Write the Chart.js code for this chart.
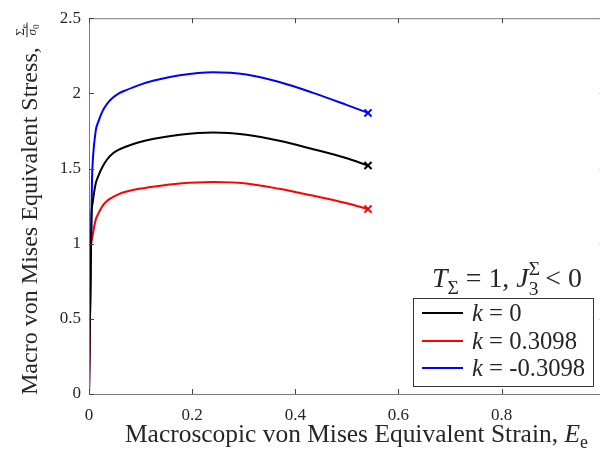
<!DOCTYPE html>
<html>
<head>
<meta charset="utf-8">
<script src="https://cdn.jsdelivr.net/npm/chart.js@4/dist/chart.umd.min.js"></script>
<style>
  html, body { margin: 0; padding: 0; background: #fff; overflow: hidden; }
  #wrap { width: 620px; height: 451px; }
</style>
</head>
<body>
<div id="wrap"><canvas id="c" width="620" height="451"></canvas></div>
<script>
// values
const strainK0 = [0, 0.0048, 0.007, 0.013, 0.018, 0.026, 0.035, 0.046, 0.058, 0.071, 0.097, 0.126, 0.176, 0.24, 0.305, 0.369, 0.433, 0.498, 0.541];
const stressK0 = [0, 1.18, 1.27, 1.40, 1.45, 1.51, 1.56, 1.60, 1.625, 1.645, 1.675, 1.698, 1.725, 1.74, 1.725, 1.685, 1.63, 1.57, 1.52];

const strainKpos = [0, 0.004, 0.0056, 0.013, 0.018, 0.026, 0.035, 0.046, 0.058, 0.071, 0.097, 0.126, 0.176, 0.24, 0.305, 0.369, 0.433, 0.498, 0.541];
const stressKpos = [0, 0.98, 1.03, 1.16, 1.20, 1.25, 1.285, 1.31, 1.33, 1.345, 1.365, 1.38, 1.40, 1.41, 1.40, 1.365, 1.32, 1.27, 1.23];

const strainKneg = [0, 0.0058, 0.007, 0.013, 0.018, 0.026, 0.035, 0.046, 0.058, 0.071, 0.097, 0.126, 0.176, 0.24, 0.305, 0.369, 0.433, 0.498, 0.541];
const stressKneg = [0, 1.42, 1.53, 1.75, 1.81, 1.88, 1.93, 1.97, 2.00, 2.02, 2.055, 2.085, 2.12, 2.14, 2.125, 2.075, 2.005, 1.925, 1.87];

const kLabels = ['0', '0.3098', '-0.3098'];
const xTicks = [0, 0.2, 0.4, 0.6, 0.8, 1];
const yTicks = [0, 0.5, 1, 1.5, 2, 2.5];

const SERIF = '"Liberation Serif", "DejaVu Serif", serif';
const AXIS_GREY = '#7a7a7a';
const TEXT = '#262626';

function toPoints(xs, ys) {
    return xs.map((x, i) => ({x: x, y: ys[i]}));
}

function makeSet(label, xs, ys, color) {
    const last = xs.length - 1;
    return {
        label: label,
        data: toPoints(xs, ys),
        showLine: true,
        borderColor: color,
        backgroundColor: color,
        borderWidth: 2,
        cubicInterpolationMode: 'monotone',
        pointStyle: 'crossRot',
        pointRadius: ctx => ctx.dataIndex === last ? 5 : 0,
        pointHoverRadius: 0,
        pointBorderWidth: 2,
        pointBorderColor: color
    };
}

// draws a list of text pieces one after another
function drawRuns(ctx, x, y, runs, size) {
    for (const r of runs) {
        const s = size * (r.s || 1);
        ctx.font = (r.it ? 'italic ' : '') + s + 'px ' + SERIF;
        ctx.fillText(r.t, x, y + (r.dy || 0) * size);
        if (!r.stay) x += ctx.measureText(r.t).width;
    }
    return x;
}

function runsWidth(ctx, runs, size) {
    let w = 0;
    for (const r of runs) {
        const s = size * (r.s || 1);
        ctx.font = (r.it ? 'italic ' : '') + s + 'px ' + SERIF;
        if (!r.stay) w += ctx.measureText(r.t).width;
    }
    return w;
}

function fitSize(ctx, runs, target, base) {
    return base * target / runsWidth(ctx, runs, base);
}

const framePlugin = {
    id: 'frame',
    afterDatasetsDraw(chart) {
        const {ctx, chartArea: a, scales} = chart;
        ctx.save();
        ctx.strokeStyle = AXIS_GREY;
        ctx.lineWidth = 1;
        ctx.strokeRect(a.left + 0.5, a.top + 0.5, a.right - a.left, a.bottom - a.top);
        ctx.strokeStyle = '#444';
        ctx.beginPath();
        xTicks.forEach(v => {
            const px = Math.round(scales.x.getPixelForValue(v)) + 0.5;
            ctx.moveTo(px, a.bottom); ctx.lineTo(px, a.bottom - 5);
            ctx.moveTo(px, a.top); ctx.lineTo(px, a.top + 5);
        });
        yTicks.forEach(v => {
            const py = Math.round(scales.y.getPixelForValue(v)) + 0.5;
            ctx.moveTo(a.left, py); ctx.lineTo(a.left + 5, py);
            ctx.moveTo(a.right, py); ctx.lineTo(a.right - 5, py);
        });
        ctx.stroke();
        ctx.restore();
    },
    afterDraw(chart) {
        const {ctx} = chart;
        ctx.save();
        ctx.fillStyle = TEXT;
        ctx.textBaseline = 'alphabetic';
        ctx.textAlign = 'left';

        // x axis title
        const xRuns = [
            {t: 'Macroscopic von Mises Equivalent Strain, '},
            {t: 'E', it: true},
            {t: 'e', s: 0.7, dy: 0.22}
        ];
        const xs = fitSize(ctx, xRuns, 463, 20);
        drawRuns(ctx, 125, 442, xRuns, xs);

        // y axis title, rotated
        const yMain = [{t: 'Macro von Mises Equivalent Stress,'}];
        const ys = fitSize(ctx, yMain, 348, 20);
        ctx.translate(37, 395);
        ctx.rotate(-Math.PI / 2);
        const endX = drawRuns(ctx, 0, 0, yMain, ys);
        const fx = endX + 10;
        const fs = 13;
        const num = [{t: 'Σ'}, {t: 'e', s: 0.7, dy: 0.2}];
        const den = [{t: 'σ', it: true}, {t: '0', s: 0.7, dy: 0.2}];
        const wn = runsWidth(ctx, num, fs), wd = runsWidth(ctx, den, fs);
        const wf = Math.max(wn, wd) + 3;
        drawRuns(ctx, fx + (wf - wn) / 2, -13, num, fs);
        drawRuns(ctx, fx + (wf - wd) / 2, -1, den, fs);
        ctx.fillRect(fx, -10.5, wf, 1);
        ctx.restore();

        // legend
        ctx.save();
        ctx.fillStyle = TEXT;
        const titleRuns = [
            {t: 'T', it: true},
            {t: 'Σ', s: 0.7, dy: 0.25},
            {t: ' = 1, '},
            {t: 'J', it: true},
            {t: 'Σ', s: 0.7, dy: -0.42, stay: true},
            {t: '3', s: 0.7, dy: 0.27},
            {t: ' < 0'}
        ];
        const ts = fitSize(ctx, titleRuns, 150, 20);
        drawRuns(ctx, 432, 287, titleRuns, ts);

        const bx = 413.5, by = 298.5, bw = 180, bh = 88;
        ctx.fillStyle = '#fff';
        ctx.fillRect(bx, by, bw, bh);
        ctx.strokeStyle = '#333';
        ctx.lineWidth = 1;
        ctx.strokeRect(bx, by, bw, bh);

        const rowY = [313, 341, 368];
        const sample = [{t: 'k', it: true}, {t: ' = ' + kLabels[1]}];
        const ls = fitSize(ctx, sample, 105, 20);
        chart.data.datasets.forEach((d, i) => {
            ctx.strokeStyle = d.borderColor;
            ctx.lineWidth = 2;
            ctx.beginPath();
            ctx.moveTo(422, rowY[i]);
            ctx.lineTo(463, rowY[i]);
            ctx.stroke();
            ctx.fillStyle = TEXT;
            drawRuns(ctx, 472, rowY[i] + ls * 0.33, [{t: 'k', it: true}, {t: ' = ' + d.label}], ls);
        });
        ctx.restore();
    }
};

new Chart(document.getElementById('c'), {
    type: 'scatter',
    data: {
        datasets: [
            makeSet(kLabels[0], strainK0, stressK0, '#000000'),
            makeSet(kLabels[1], strainKpos, stressKpos, '#ff0000'),
            makeSet(kLabels[2], strainKneg, stressKneg, '#0000ff')
        ]
    },
    options: {
        responsive: false,
        animation: false,
        events: [],
        layout: {padding: {left: 0, top: 12, right: 13, bottom: 0}},
        plugins: {legend: {display: false}, tooltip: {enabled: false}},
        scales: {
            x: {
                type: 'linear',
                min: 0, max: 1,
                afterFit: s => { s.height = 57; },
                afterBuildTicks: s => { s.ticks = xTicks.map(v => ({value: v})); },
                grid: {display: false, drawTicks: false},
                border: {display: false},
                ticks: {
                    color: TEXT, padding: 11, maxRotation: 0,
                    font: {family: SERIF, size: 17},
                    callback: v => String(v)
                }
            },
            y: {
                type: 'linear',
                min: 0, max: 2.5,
                afterFit: s => { s.width = 89; },
                afterBuildTicks: s => { s.ticks = yTicks.map(v => ({value: v})); },
                grid: {display: false, drawTicks: false},
                border: {display: false},
                ticks: {
                    color: TEXT, padding: 8,
                    font: {family: SERIF, size: 17},
                    callback: v => String(v)
                }
            }
        }
    },
    plugins: [framePlugin]
});
</script>
</body>
</html>
